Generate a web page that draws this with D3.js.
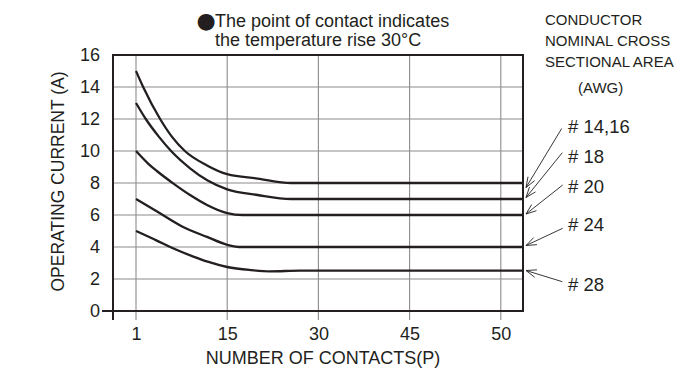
<!DOCTYPE html>
<html>
<head>
<meta charset="utf-8">
<script src="https://cdn.jsdelivr.net/npm/d3@7"></script>
<style>
  html, body { margin: 0; padding: 0; background: #fff; }
  svg { display: block; }
  text { font-family: "Liberation Sans", Arial, sans-serif; fill: #231f20; }
</style>
</head>
<body>
<svg id="chart" width="677" height="369"></svg>
<script>
// Operating current vs. number of contacts, one curve per wire gauge (AWG)
const xTicks = [1, 15, 30, 45, 50];
const yTicks = [0, 2, 4, 6, 8, 10, 12, 14, 16];

const awg1416 = [[1, 15], [2.1, 14], [4.7, 12], [6.5, 10.9], [8.5, 10], [11.9, 9.1], [15, 8.55], [20, 8.28], [25.5, 8], [53, 8]];
const awg18   = [[1, 13], [2.5, 12], [4.5, 10.9], [6.5, 9.95], [9.3, 8.92], [12, 8.15], [15, 7.6], [20, 7.25], [25.5, 7], [53, 7]];
const awg20   = [[1, 10], [2.9, 9.2], [4.2, 8.75], [6.7, 7.98], [9.3, 7.25], [11.9, 6.63], [15, 6.12], [17.5, 6], [53, 6]];
const awg24   = [[1, 7], [4.3, 6.2], [8, 5.3], [11.9, 4.63], [15, 4.14], [17.5, 4], [53, 4]];
const awg28   = [[1, 5], [4.2, 4.4], [6.5, 3.95], [9.8, 3.4], [12, 3.08], [15, 2.75], [18.8, 2.56], [22, 2.48], [27, 2.52], [53, 2.52]];

const seriesNames = ["# 14,16", "# 18", "# 20", "# 24", "# 28"];
const seriesData = [awg1416, awg18, awg20, awg24, awg28];

const noteLines = ["The point of contact indicates", "the temperature rise 30\u00B0C"];
const legendHeader = ["CONDUCTOR", "NOMINAL CROSS", "SECTIONAL AREA"];

// layout
const plot = { left: 113, right: 523, top: 55, bottom: 311 };
const firstTick = 136, tickStep = 91.2;
const ink = "#231f20", gridInk = "#8c8c8c";

const svg = d3.select("#chart");

// x positions: the labelled contact counts sit at equal spacing
const x = d3.scaleLinear()
  .domain(xTicks)
  .range(xTicks.map((d, i) => firstTick + i * tickStep));
const y = d3.scaleLinear().domain([0, 16]).range([plot.bottom, plot.top]);

// horizontal grid
svg.append("g")
  .selectAll("line")
  .data(yTicks.filter(v => v > 0 && v < 16))
  .join("line")
  .attr("x1", plot.left).attr("x2", plot.right)
  .attr("y1", d => y(d)).attr("y2", d => y(d))
  .attr("stroke", gridInk).attr("stroke-width", 1.1);

// vertical grid + tick marks below the axis
svg.append("g")
  .selectAll("line")
  .data(xTicks)
  .join("line")
  .attr("x1", d => x(d)).attr("x2", d => x(d))
  .attr("y1", plot.top).attr("y2", plot.bottom + 9)
  .attr("stroke", gridInk).attr("stroke-width", 1.1);

// x tick labels
const xAxis = svg.append("g")
  .attr("transform", `translate(0,${plot.bottom})`)
  .call(d3.axisBottom(x).tickValues(xTicks).tickSize(0).tickPadding(16).tickFormat(d3.format("d")));
xAxis.select(".domain").remove();
xAxis.selectAll("text").attr("font-size", 18).attr("fill", ink)
  .style("font-family", "'Liberation Sans', Arial, sans-serif");

// y tick labels
const yAxis = svg.append("g")
  .attr("transform", `translate(${plot.left},0)`)
  .call(d3.axisLeft(y).tickValues(yTicks).tickSize(0).tickPadding(13));
yAxis.select(".domain").remove();
yAxis.selectAll("text").attr("font-size", 18).attr("fill", ink)
  .style("font-family", "'Liberation Sans', Arial, sans-serif");

// frame
svg.append("path")
  .attr("d", `M${plot.left},${plot.bottom + 9}V${plot.top}H${plot.right}V${plot.bottom}H${plot.left - 11}`)
  .attr("fill", "none").attr("stroke", ink).attr("stroke-width", 2);

// curves
svg.append("clipPath").attr("id", "plotclip")
  .append("rect")
  .attr("x", plot.left).attr("y", plot.top)
  .attr("width", plot.right - plot.left).attr("height", plot.bottom - plot.top);

const line = d3.line()
  .x(d => x(d[0])).y(d => y(d[1]))
  .curve(d3.curveMonotoneX);

svg.append("g").attr("clip-path", "url(#plotclip)")
  .selectAll("path")
  .data(seriesData)
  .join("path")
  .attr("d", line)
  .attr("fill", "none").attr("stroke", ink).attr("stroke-width", 2.3);

// gauge labels with leader arrows
const labelPos = [[568, 133], [568, 163], [568, 193], [568, 231], [568, 290.5]];
const arrowFrom = [[561.7, 128.5], [562.3, 152.7], [562.7, 185], [562.7, 228.3], [562.3, 281.7]];
const arrowTo = [[526, 187.5], [526, 197.5], [526, 214], [526, 245.5], [526, 270.5]];

const ann = svg.append("g");
seriesNames.forEach((name, i) => {
  ann.append("text")
    .attr("x", labelPos[i][0]).attr("y", labelPos[i][1])
    .attr("font-size", 18.5)
    .text(name);
  const [x0, y0] = arrowFrom[i], [x1, y1] = arrowTo[i];
  const ang = Math.atan2(y1 - y0, x1 - x0);
  const len = 11, spread = 0.36;
  const hx1 = x1 - len * Math.cos(ang - spread), hy1 = y1 - len * Math.sin(ang - spread);
  const hx2 = x1 - len * Math.cos(ang + spread), hy2 = y1 - len * Math.sin(ang + spread);
  ann.append("path")
    .attr("d", `M${x0},${y0}L${x1},${y1}M${hx1},${hy1}L${x1},${y1}L${hx2},${hy2}`)
    .attr("fill", "none").attr("stroke", ink).attr("stroke-width", 0.9);
});

// legend header
legendHeader.forEach((t, i) => {
  svg.append("text")
    .attr("x", 545).attr("y", [25, 45.7, 66.7][i])
    .attr("font-size", 15)
    .text(t);
});
svg.append("text").attr("x", 578).attr("y", 93).attr("font-size", 15).text("(AWG)");

// note above the plot
svg.append("text").attr("x", 196.5).attr("y", 28)
  .style("font-family", "'DejaVu Sans', sans-serif")
  .attr("font-size", 22).text("\u25CF");
svg.append("text").attr("x", 215).attr("y", 27).attr("font-size", 18).text(noteLines[0]);
svg.append("text").attr("x", 215).attr("y", 46).attr("font-size", 18).text(noteLines[1]);

// axis titles
svg.append("text")
  .attr("transform", "translate(63.5,181.5) rotate(-90)")
  .attr("text-anchor", "middle")
  .attr("font-size", 17.5)
  .text("OPERATING CURRENT (A)");

svg.append("text")
  .attr("x", 323).attr("y", 364)
  .attr("text-anchor", "middle")
  .attr("font-size", 18)
  .text("NUMBER OF CONTACTS(P)");
</script>
</body>
</html>
